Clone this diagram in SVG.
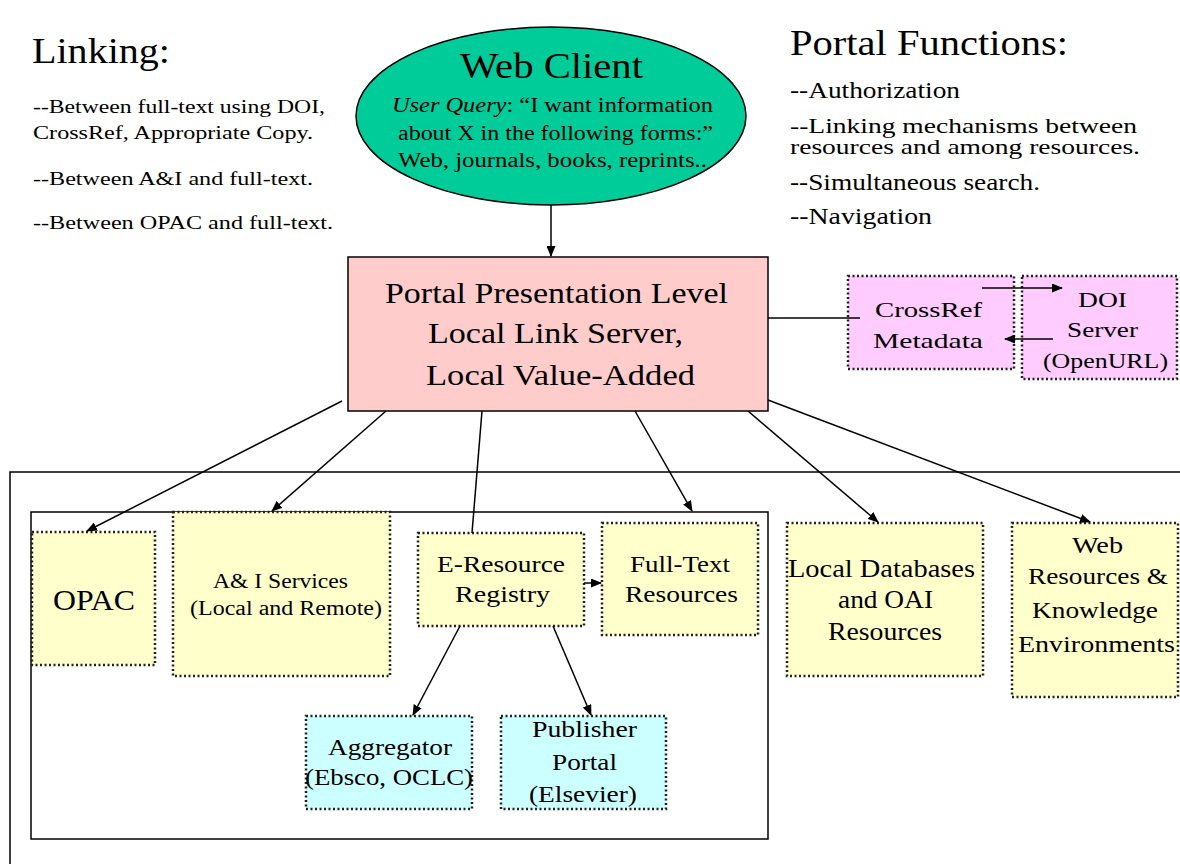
<svg xmlns="http://www.w3.org/2000/svg" width="1180" height="864" viewBox="0 0 1180 864" font-family="'Liberation Serif', 'DejaVu Serif', serif">
<defs>
<marker id="ah" markerWidth="11" markerHeight="9" refX="10" refY="4.5" orient="auto" markerUnits="userSpaceOnUse">
<path d="M0,0 L11,4.5 L0,9 z" fill="#000"/>
</marker>
<style>
text{fill:#000}
.c{text-anchor:middle}
.dot{stroke:#222;stroke-width:2.5;stroke-dasharray:2 2.5}
.y{fill:#FFFFCC}
.cy{fill:#CCFFFF}
.pk{fill:#FFCCFF}
.ln{stroke:#000;stroke-width:1.5;fill:none}
</style>
</defs>
<rect width="1180" height="864" fill="#fff"/>

<g id="frames">
<path d="M10,864 V472 H1180" fill="none" stroke="#000" stroke-width="1.5"/>
<rect x="31" y="512" width="737" height="327" fill="none" stroke="#000" stroke-width="1.5"/>
</g>

<g id="linking-notes">
<text x="32" y="63" font-size="35" textLength="138" lengthAdjust="spacingAndGlyphs">Linking:</text>
<text x="33" y="113" font-size="19" textLength="292" lengthAdjust="spacingAndGlyphs">--Between full-text using DOI,</text>
<text x="33" y="139" font-size="19" textLength="280" lengthAdjust="spacingAndGlyphs">CrossRef, Appropriate Copy.</text>
<text x="33" y="185" font-size="19" textLength="280" lengthAdjust="spacingAndGlyphs">--Between A&amp;I and full-text.</text>
<text x="33" y="229" font-size="19" textLength="300" lengthAdjust="spacingAndGlyphs">--Between OPAC and full-text.</text>
</g>

<g id="portal-functions">
<text x="790" y="55" font-size="35" textLength="278" lengthAdjust="spacingAndGlyphs">Portal Functions:</text>
<text x="790" y="98" font-size="23" textLength="170" lengthAdjust="spacingAndGlyphs">--Authorization</text>
<text x="790" y="133" font-size="21" textLength="347" lengthAdjust="spacingAndGlyphs">--Linking mechanisms between</text>
<text x="790" y="154" font-size="21" textLength="350" lengthAdjust="spacingAndGlyphs">resources and among resources.</text>
<text x="790" y="190" font-size="23" textLength="250" lengthAdjust="spacingAndGlyphs">--Simultaneous search.</text>
<text x="790" y="224" font-size="23" textLength="142" lengthAdjust="spacingAndGlyphs">--Navigation</text>
</g>

<g id="web-client">
<ellipse cx="551" cy="116" rx="195" ry="89" fill="#00CC99" stroke="#000" stroke-width="1.5"/>
<text class="c" x="551.5" y="78" font-size="35" textLength="183" lengthAdjust="spacingAndGlyphs">Web Client</text>
<text class="c" x="552.5" y="112" font-size="20" textLength="321" lengthAdjust="spacingAndGlyphs"><tspan font-style="italic">User Query</tspan>:  “I want information</text>
<text class="c" x="555.5" y="140" font-size="20" textLength="315" lengthAdjust="spacingAndGlyphs">about X in the following forms:”</text>
<text class="c" x="552.5" y="167" font-size="20" textLength="309" lengthAdjust="spacingAndGlyphs">Web, journals, books, reprints..</text>
</g>

<g id="portal">
<rect x="348" y="257" width="420" height="154" fill="#FFCCCC" stroke="#000" stroke-width="1.5"/>
<text class="c" x="556.5" y="303" font-size="30" textLength="343" lengthAdjust="spacingAndGlyphs">Portal Presentation Level</text>
<text class="c" x="555.5" y="343" font-size="30" textLength="255" lengthAdjust="spacingAndGlyphs">Local Link Server,</text>
<text class="c" x="560.5" y="385" font-size="30" textLength="269" lengthAdjust="spacingAndGlyphs">Local Value-Added</text>
</g>

<g id="crossref">
<rect x="848" y="276" width="166" height="93" class="pk dot"/>
<text class="c" x="928.5" y="317" font-size="22" textLength="107" lengthAdjust="spacingAndGlyphs">CrossRef</text>
<text class="c" x="928" y="348" font-size="22" textLength="110" lengthAdjust="spacingAndGlyphs">Metadata</text>
</g>

<g id="doi">
<rect x="1022" y="276" width="155" height="103" class="pk dot"/>
<text class="c" x="1102.5" y="307" font-size="22" textLength="49" lengthAdjust="spacingAndGlyphs">DOI</text>
<text class="c" x="1102.5" y="337" font-size="22" textLength="71" lengthAdjust="spacingAndGlyphs">Server</text>
<text class="c" x="1105.5" y="368" font-size="22" textLength="125" lengthAdjust="spacingAndGlyphs">(OpenURL)</text>
</g>

<g id="opac">
<rect x="32" y="532" width="123" height="133" class="y dot"/>
<text class="c" x="94" y="610" font-size="29" textLength="82" lengthAdjust="spacingAndGlyphs">OPAC</text>
</g>

<g id="ai-services">
<rect x="173" y="512" width="217" height="164" class="y dot"/>
<text class="c" x="280.5" y="588" font-size="20" textLength="135" lengthAdjust="spacingAndGlyphs">A&amp; I Services</text>
<text class="c" x="286" y="615" font-size="20" textLength="192" lengthAdjust="spacingAndGlyphs">(Local and Remote)</text>
</g>

<g id="e-resource">
<rect x="418" y="533" width="166" height="93" class="y dot"/>
<text class="c" x="501" y="572" font-size="23" textLength="128" lengthAdjust="spacingAndGlyphs">E-Resource</text>
<text class="c" x="502.5" y="602" font-size="23" textLength="95" lengthAdjust="spacingAndGlyphs">Registry</text>
</g>

<g id="full-text">
<rect x="602" y="523" width="156" height="112" class="y dot"/>
<text class="c" x="680" y="572" font-size="23" textLength="100" lengthAdjust="spacingAndGlyphs">Full-Text</text>
<text class="c" x="681.5" y="602" font-size="23" textLength="113" lengthAdjust="spacingAndGlyphs">Resources</text>
</g>

<g id="local-db">
<rect x="787" y="523" width="196" height="153" class="y dot"/>
<text class="c" x="881.5" y="577" font-size="25" textLength="187" lengthAdjust="spacingAndGlyphs">Local Databases</text>
<text class="c" x="885.5" y="608" font-size="25" textLength="95" lengthAdjust="spacingAndGlyphs">and OAI</text>
<text class="c" x="885" y="640" font-size="25" textLength="114" lengthAdjust="spacingAndGlyphs">Resources</text>
</g>

<g id="web-resources">
<rect x="1012" y="523" width="166" height="174" class="y dot"/>
<text class="c" x="1097.5" y="553" font-size="24" textLength="51" lengthAdjust="spacingAndGlyphs">Web</text>
<text class="c" x="1098" y="584" font-size="24" textLength="140" lengthAdjust="spacingAndGlyphs">Resources &amp;</text>
<text class="c" x="1095" y="618" font-size="24" textLength="126" lengthAdjust="spacingAndGlyphs">Knowledge</text>
<text class="c" x="1096.5" y="652" font-size="24" textLength="157" lengthAdjust="spacingAndGlyphs">Environments</text>
</g>

<g id="aggregator">
<rect x="306" y="716" width="166" height="93" class="cy dot"/>
<text class="c" x="390" y="755" font-size="23" textLength="124" lengthAdjust="spacingAndGlyphs">Aggregator</text>
<text class="c" x="389" y="785" font-size="23" textLength="168" lengthAdjust="spacingAndGlyphs">(Ebsco, OCLC)</text>
</g>

<g id="publisher">
<rect x="501" y="716" width="165" height="93" class="cy dot"/>
<text class="c" x="584.5" y="737" font-size="23" textLength="105" lengthAdjust="spacingAndGlyphs">Publisher</text>
<text class="c" x="584.5" y="770" font-size="23" textLength="65" lengthAdjust="spacingAndGlyphs">Portal</text>
<text class="c" x="583" y="802" font-size="23" textLength="108" lengthAdjust="spacingAndGlyphs">(Elsevier)</text>
</g>

<g id="connectors">
<line class="ln" x1="551" y1="205" x2="551" y2="256" marker-end="url(#ah)"/>
<line class="ln" x1="768" y1="318" x2="860" y2="318"/>
<line class="ln" x1="982" y1="288" x2="1062" y2="288" marker-end="url(#ah)"/>
<line class="ln" x1="1053" y1="339" x2="1005" y2="339" marker-end="url(#ah)"/>
<line class="ln" x1="342" y1="401" x2="87" y2="531" marker-end="url(#ah)"/>
<line class="ln" x1="386" y1="411" x2="272" y2="511" marker-end="url(#ah)"/>
<line class="ln" x1="482" y1="411" x2="472" y2="533"/>
<line class="ln" x1="635" y1="411" x2="692" y2="511" marker-end="url(#ah)"/>
<line class="ln" x1="748" y1="411" x2="878" y2="522" marker-end="url(#ah)"/>
<line class="ln" x1="768" y1="400" x2="1090" y2="522" marker-end="url(#ah)"/>
<line class="ln" x1="584" y1="583" x2="601" y2="583" marker-end="url(#ah)"/>
<line class="ln" x1="460" y1="626" x2="413" y2="715" marker-end="url(#ah)"/>
<line class="ln" x1="553" y1="626" x2="591" y2="715" marker-end="url(#ah)"/>
</g>
</svg>
